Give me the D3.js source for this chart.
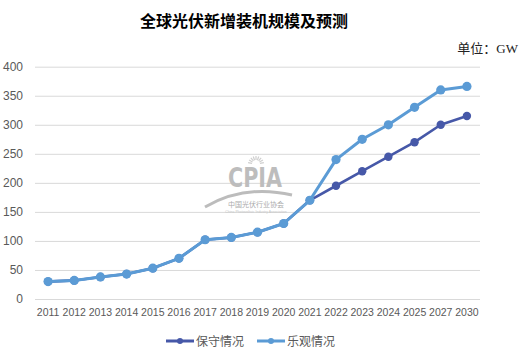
<!DOCTYPE html>
<html>
<head>
<meta charset="utf-8">
<script src="https://cdn.jsdelivr.net/npm/d3@7/dist/d3.min.js"></script>
<style>
  html, body { margin: 0; padding: 0; background: #fff; }
  svg { display: block; }
</style>
</head>
<body>
<svg id="chart" width="527" height="350"></svg>
<script>
const categories = ["2011","2012","2013","2014","2015","2016","2017","2018","2019","2020","2021","2022","2023","2024","2025","2027","2030"];
const conservative = [30, 32, 38, 43, 53, 70, 102, 106, 115, 130, 170, 195, 220, 245, 270, 300, 315];
const optimistic   = [30, 32, 38, 43, 53, 70, 102, 106, 115, 130, 170, 240, 275, 300, 330, 360, 366];
const yTicks = [0, 50, 100, 150, 200, 250, 300, 350, 400];
const seriesNames = ["保守情况", "乐观情况"];
const seriesColors = ["#4658a8", "#5b9bd5"];
const titleText = "全球光伏新增装机规模及预测";
const unitText = "单位：GW";

const svg = d3.select("#chart");
const plotLeft = 35, plotRight = 480, plotTop = 66.7, plotBottom = 299;

const x = d3.scaleBand().domain(categories).range([plotLeft, plotRight]);
const y = d3.scaleLinear().domain([0, 400]).range([plotBottom, plotTop]);
const cx = d => x(d) + x.bandwidth() / 2;

// title
svg.append("text").attr("x", 244).attr("y", 27).attr("text-anchor", "middle")
  .attr("font-family", "'Noto Sans CJK SC', sans-serif").attr("font-weight", "bold")
  .attr("font-size", 16).attr("fill", "#000").text(titleText);

svg.append("text").attr("x", 518).attr("y", 53).attr("text-anchor", "end")
  .attr("font-family", "'Liberation Serif', 'Noto Sans CJK SC', serif")
  .attr("font-size", 13).attr("fill", "#222").text(unitText);

// gridlines + y axis
const yAxis = d3.axisLeft(y).tickValues(yTicks).tickSize(-(plotRight - plotLeft)).tickPadding(12);
const gy = svg.append("g").attr("transform", `translate(${plotLeft},0)`).call(yAxis);
gy.select(".domain").remove();
gy.selectAll(".tick line").attr("stroke", "#d9d9d9").attr("stroke-width", 1);
gy.selectAll(".tick text").attr("font-family", "'Liberation Sans', Arial, sans-serif")
  .attr("font-size", 12).attr("fill", "#595959");

// watermark
const wm = svg.append("g").attr("fill", "#bdbdbd");
wm.append("text").attr("x", 255).attr("y", 187).attr("text-anchor", "middle")
  .attr("font-family", "'Liberation Sans Narrow', 'DejaVu Sans Condensed', sans-serif")
  .attr("font-weight", "bold").attr("font-size", 27).attr("textLength", 54)
  .attr("lengthAdjust", "spacingAndGlyphs").text("CPIA");
const rays = d3.range(-80, 81, 20);
rays.forEach(a => {
  const r = a * Math.PI / 180;
  wm.append("line").attr("x1", 256 + 4 * Math.sin(r)).attr("y1", 164 - 4 * Math.cos(r))
    .attr("x2", 256 + 8 * Math.sin(r)).attr("y2", 164 - 8 * Math.cos(r))
    .attr("stroke", "#cfcfcf").attr("stroke-width", 1.2);
});
wm.append("path").attr("d", "M205,207 Q245,184 292,195").attr("fill", "none")
  .attr("stroke", "#bcbcbc").attr("stroke-width", 3);
wm.append("text").attr("x", 256).attr("y", 207).attr("text-anchor", "middle")
  .attr("font-family", "'Noto Sans CJK SC', sans-serif").attr("font-size", 7)
  .attr("fill", "#ababab").text("中国光伏行业协会");
wm.append("text").attr("x", 256).attr("y", 213).attr("text-anchor", "middle")
  .attr("font-family", "'Liberation Sans', sans-serif").attr("font-size", 3.5)
  .attr("fill", "#c5c5c5").text("China Photovoltaic Industry Association");

// x axis labels
const xAxis = d3.axisBottom(x).tickSize(0).tickPadding(10);
const gx = svg.append("g").attr("transform", `translate(0,${plotBottom})`).call(xAxis);
gx.select(".domain").remove();
gx.selectAll(".tick text").attr("font-family", "'Liberation Sans', Arial, sans-serif")
  .attr("font-size", 10.5).attr("fill", "#595959");

// lines
const line = d3.line().x((d, i) => cx(categories[i])).y(d => y(d));
[conservative, optimistic].forEach((vals, si) => {
  svg.append("path").datum(vals).attr("d", line).attr("fill", "none")
    .attr("stroke", seriesColors[si]).attr("stroke-width", si === 0 ? 2.6 : 3)
    .attr("stroke-linejoin", "round");
  svg.append("g").selectAll("circle").data(vals).join("circle")
    .attr("cx", (d, i) => cx(categories[i])).attr("cy", d => y(d)).attr("r", si === 0 ? 4.2 : 4.6)
    .attr("fill", seriesColors[si]);
});

// legend
const legendX = [166, 257];
seriesNames.forEach((name, i) => {
  const g = svg.append("g").attr("transform", `translate(${legendX[i]},341)`);
  g.append("line").attr("x1", 0).attr("x2", 28).attr("y1", 0).attr("y2", 0)
    .attr("stroke", seriesColors[i]).attr("stroke-width", 3);
  g.append("circle").attr("cx", 14).attr("cy", 0).attr("r", 3).attr("fill", seriesColors[i]);
  g.append("text").attr("x", 30).attr("y", 4.5)
    .attr("font-family", "'Noto Sans CJK SC', sans-serif").attr("font-size", 12)
    .attr("fill", "#595959").text(name);
});
</script>
</body>
</html>
